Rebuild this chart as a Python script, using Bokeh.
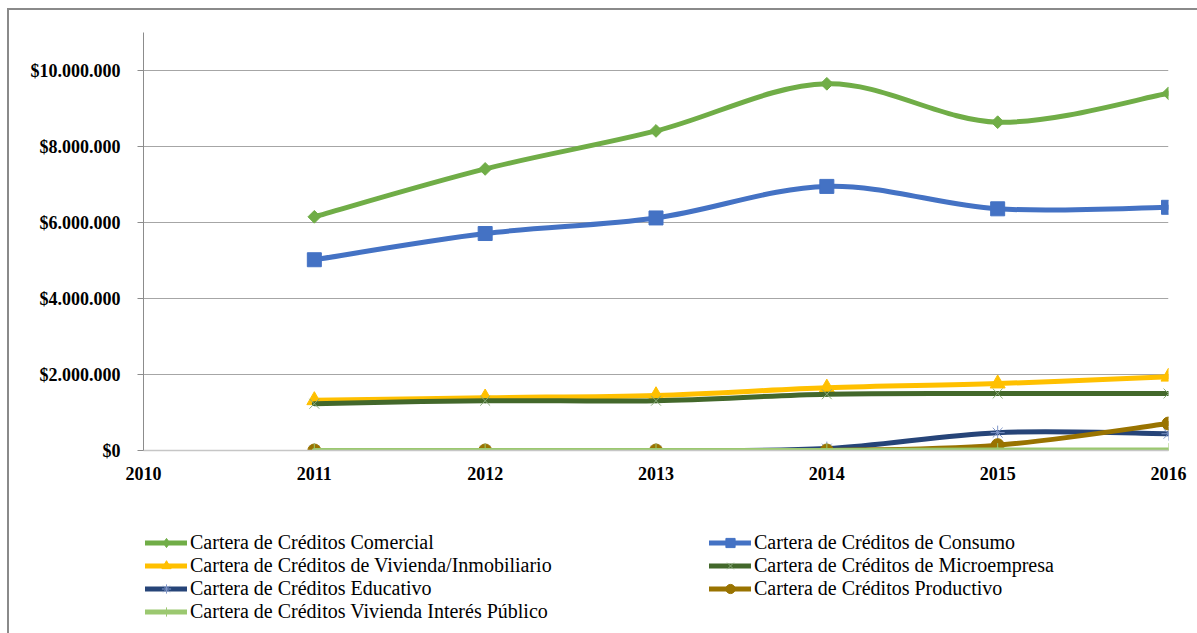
from bokeh.plotting import figure
from bokeh.layouts import column
from bokeh.models import Legend, LegendItem, FixedTicker, CustomJSTickFormatter
from bokeh.embed import file_html
from bokeh.resources import INLINE
import math

years = [2011, 2012, 2013, 2014, 2015, 2016]
x_ticks = [2010, 2011, 2012, 2013, 2014, 2015, 2016]
y_ticks = [0, 2000000, 4000000, 6000000, 8000000, 10000000]

comercial = [6150000, 7410000, 8410000, 9650000, 8640000, 9400000]
consumo = [5020000, 5710000, 6120000, 6950000, 6360000, 6400000]
vivienda = [1320000, 1390000, 1450000, 1650000, 1760000, 1940000]
microempresa = [1230000, 1310000, 1310000, 1480000, 1500000, 1500000]
educativo = [0, 0, 0, 50000, 470000, 440000]
productivo = [0, 0, 0, 0, 140000, 710000]
vivienda_publico = [0, 0, 0, 0, 10000, 10000]

names = [
    "Cartera de Créditos Comercial",
    "Cartera de Créditos de Consumo",
    "Cartera de Créditos de Vivienda/Inmobiliario",
    "Cartera de Créditos de Microempresa",
    "Cartera de Créditos Educativo",
    "Cartera de Créditos Productivo",
    "Cartera de Créditos Vivienda Interés Público",
]
values = [comercial, consumo, vivienda, microempresa, educativo, productivo, vivienda_publico]

line_colors = ["#70ad47", "#4472c4", "#ffc000", "#43682b", "#264478", "#997300", "#9bc870"]
marker_styles = [
    dict(marker="square", size=9, angle=math.pi / 4, fill_color="#70ad47", line_color="#70ad47", line_width=1),
    dict(marker="square", size=14, fill_color="#4472c4", line_color="#4472c4", line_width=1),
    dict(marker="triangle", size=15, fill_color="#ffc000", line_color="#ffc000", line_width=1),
    dict(marker="x", size=14, fill_color=None, line_color="#8aab7a", line_width=1),
    dict(marker="asterisk", size=14, fill_color=None, line_color="#8096c8", line_width=1),
    dict(marker="circle", size=13, fill_color="#997300", line_color="#997300", line_width=1),
    dict(marker="cross", size=14, fill_color=None, line_color="#9bc870", line_width=1),
]

# ---------------- main chart ----------------
p = figure(
    frame_width=1025, frame_height=418,
    min_border_left=134, min_border_top=22, min_border_right=29, min_border_bottom=45,
    x_range=(2010, 2016), y_range=(0, 11000000),
    output_backend="svg", toolbar_location=None,
)
p.outline_line_color = None
p.background_fill_color = "white"
p.border_fill_color = "white"

p.xgrid.grid_line_color = None
p.ygrid.grid_line_color = "#a6a6a6"
p.ygrid.grid_line_width = 1
p.ygrid.ticker = FixedTicker(ticks=y_ticks[1:])

p.yaxis.ticker = FixedTicker(ticks=y_ticks)
p.yaxis.formatter = CustomJSTickFormatter(
    code="return '$' + Math.round(tick).toString().replace(/\\B(?=(\\d{3})+(?!\\d))/g, '.');")
p.yaxis.axis_line_color = "#8c8c8c"
p.yaxis.major_tick_line_color = "#8c8c8c"
p.yaxis.major_tick_out = 6
p.yaxis.major_tick_in = 0
p.yaxis.minor_tick_line_color = None
p.yaxis.major_label_standoff = 17

p.xaxis.ticker = FixedTicker(ticks=x_ticks)
p.xaxis.axis_line_color = "#c6c6c6"
p.xaxis.axis_line_width = 1.5
p.xaxis.major_tick_line_color = None
p.xaxis.major_tick_out = 0
p.xaxis.major_tick_in = 0
p.xaxis.minor_tick_line_color = None
p.xaxis.major_label_standoff = 16

for ax in (p.xaxis, p.yaxis):
    ax.major_label_text_font = "Liberation Serif"
    ax.major_label_text_font_style = "bold"
    ax.major_label_text_font_size = "18px"
    ax.major_label_text_color = "#000000"


def smooth_controls(xs, ys):
    n = len(xs)
    x0, y0, x1, y1, cx0, cy0, cx1, cy1 = [], [], [], [], [], [], [], []
    for i in range(n - 1):
        pm = max(i - 1, 0)
        pn = min(i + 2, n - 1)
        x0.append(xs[i]); y0.append(ys[i])
        x1.append(xs[i + 1]); y1.append(ys[i + 1])
        cx0.append(xs[i] + (xs[i + 1] - xs[pm]) / 6.0)
        cy0.append(ys[i] + (ys[i + 1] - ys[pm]) / 6.0)
        cx1.append(xs[i + 1] - (xs[pn] - xs[i]) / 6.0)
        cy1.append(ys[i + 1] - (ys[pn] - ys[i]) / 6.0)
    return dict(x0=x0, y0=y0, x1=x1, y1=y1, cx0=cx0, cy0=cy0, cx1=cx1, cy1=cy1)


for vals, col, ms in zip(values, line_colors, marker_styles):
    c = smooth_controls(years, vals)
    p.bezier(x0=c["x0"], y0=c["y0"], x1=c["x1"], y1=c["y1"],
             cx0=c["cx0"], cy0=c["cy0"], cx1=c["cx1"], cy1=c["cy1"],
             line_color=col, line_width=5, line_cap="round")
    p.scatter(x=years, y=vals, **ms)

# ---------------- legend strip ----------------
leg_fig = figure(
    frame_width=1188, frame_height=138,
    min_border_left=0, min_border_right=0, min_border_top=0, min_border_bottom=0,
    x_range=(0, 1), y_range=(0, 1), x_axis_type=None, y_axis_type=None,
    output_backend="svg", toolbar_location=None,
)
leg_fig.outline_line_color = None
leg_fig.xgrid.visible = False
leg_fig.ygrid.visible = False
leg_fig.border_fill_color = "white"

items = []
for name, vals, col, ms in zip(names, values, line_colors, marker_styles):
    lms = dict(ms)
    if "angle" in lms:
        lms.pop("angle")
        lms["marker"] = "diamond"
    ln = leg_fig.line(x=years, y=vals, line_color=col, line_width=5, line_cap="round")
    sc = leg_fig.scatter(x=years, y=vals, **lms)
    items.append(LegendItem(label=name, renderers=[ln, sc]))


def make_legend(its, loc):
    leg = Legend(items=its, location=loc, orientation="vertical")
    leg.label_text_font = "Liberation Serif"
    leg.label_text_font_size = "20px"
    leg.label_text_color = "#000000"
    leg.glyph_width = 42
    leg.glyph_height = 23
    leg.label_height = 23
    leg.label_standoff = 3
    leg.spacing = 0
    leg.padding = 0
    leg.margin = 0
    leg.border_line_color = None
    leg.background_fill_alpha = 0
    return leg


leg_fig.add_layout(make_legend([items[0], items[2], items[4], items[6]], (136, 10)))
leg_fig.add_layout(make_legend([items[1], items[3], items[5]], (700, 33)))

layout = column(
    p, leg_fig, spacing=0,
    styles={"margin-left": "7px", "margin-top": "8px",
            "border-left": "2px solid #8a8a8a", "border-top": "2px solid #8a8a8a",
            "background-color": "white"},
)

open("out.html", "w").write(file_html(layout, INLINE))
